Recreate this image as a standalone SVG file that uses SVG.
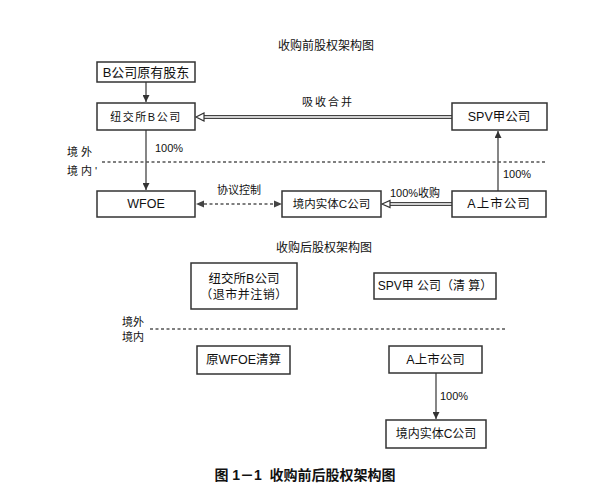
<svg xmlns="http://www.w3.org/2000/svg" width="607" height="496" viewBox="0 0 607 496">
<style>
text{font-family:"Liberation Sans","Noto Sans CJK SC",sans-serif;fill:#111;}
.box{fill:#fff;stroke:#333;stroke-width:1.5;}
.t{font-size:12.5px;text-anchor:middle;dominant-baseline:central;}
.lbl{font-size:11px;}
.ln{stroke:#444;stroke-width:1.3;fill:none;}
.dash{stroke:#555;stroke-width:1.5;stroke-dasharray:3 2.5;fill:none;}
.dbl{stroke:#444;stroke-width:4;fill:none;}
.dbli{stroke:#fff;stroke-width:1.4;fill:none;}
</style>
<defs>
<marker id="ah" viewBox="0 0 10 10" refX="10" refY="5" markerWidth="7" markerHeight="7" orient="auto" markerUnits="userSpaceOnUse">
<path d="M0,0 L10,5 L0,10 z" fill="#333"/>
</marker>
</defs>
<rect width="607" height="496" fill="#fff"/>
<text x="326" y="46" class="t" style="font-size:12px">收购前股权架构图</text>
<g id="connectors">
<line x1="146" y1="82" x2="146" y2="102" class="ln" marker-end="url(#ah)"/>
<line x1="452" y1="117" x2="201" y2="117" class="dbl"/>
<line x1="452" y1="117" x2="200" y2="117" class="dbli"/>
<path d="M196,117 L204,113 L204,121 z" fill="#fff" stroke="#333" stroke-width="1.2"/>
<text x="328" y="106" class="lbl" text-anchor="middle" letter-spacing="2">吸收合并</text>
<line x1="146" y1="130" x2="146" y2="190" class="ln" marker-end="url(#ah)"/>
<text x="155" y="152" class="lbl" font-size="10">100%</text>
<line x1="102" y1="162" x2="546" y2="162" class="dash"/>
<line x1="204" y1="204" x2="274" y2="204" class="dash"/>
<path d="M196,204 L204,200.5 L204,207.5 z" fill="#444"/>
<path d="M282,204 L274,200.5 L274,207.5 z" fill="#444"/>
<text x="239" y="194" class="lbl" text-anchor="middle">协议控制</text>
<line x1="498" y1="191" x2="498" y2="131" class="ln" marker-end="url(#ah)"/>
<text x="503" y="178" class="lbl" font-size="10">100%</text>
<line x1="452" y1="204" x2="387" y2="204" class="dbl"/>
<line x1="452" y1="204" x2="386" y2="204" class="dbli"/>
<path d="M382,204 L390,200.5 L390,207.5 z" fill="#fff" stroke="#333" stroke-width="1.2"/>
<text x="415" y="197" class="lbl" text-anchor="middle">100%收购</text>
<text x="324" y="248" class="t" style="font-size:12px">收购后股权架构图</text>
<line x1="150" y1="329" x2="507" y2="329" class="dash"/>
<line x1="436" y1="373" x2="436" y2="419" class="ln" marker-end="url(#ah)"/>
<text x="440" y="400" class="lbl" font-size="10">100%</text>
</g>
<g id="label-jw1">
<text x="67" y="156" class="lbl" font-size="12.5" letter-spacing="3">境外</text>
<text x="67" y="175" class="lbl" font-size="12.5" letter-spacing="3">境内'</text>
</g>
<g id="label-jw2">
<text x="122" y="326" class="lbl" font-size="12.5">境外</text>
<text x="122" y="341" class="lbl" font-size="12.5">境内</text>
</g>
<g id="n-bgd"><rect x="97" y="62" width="98" height="20" class="box"/><text x="146" y="72" class="t" style="font-size:13px">B公司原有股东</text></g>
<g id="n-nyse"><rect x="97" y="103" width="98" height="27" class="box"/><text x="146" y="117" class="t" style="font-size:11px" letter-spacing="1.5">纽交所B公司</text></g>
<g id="n-spv"><rect x="452" y="103" width="95" height="27" class="box"/><text x="499" y="117" class="t">SPV甲公司</text></g>
<g id="n-wfoe"><rect x="97" y="191" width="98" height="26" class="box"/><text x="146" y="204" class="t">WFOE</text></g>
<g id="n-c"><rect x="282" y="191" width="99" height="26" class="box"/><text x="331.5" y="204" class="t" style="font-size:11.5px">境内实体C公司</text></g>
<g id="n-a"><rect x="452" y="191" width="94" height="26" class="box"/><text x="499" y="204" class="t" letter-spacing="1">A上市公司</text></g>
<g id="n-nyse2"><rect x="191" y="263" width="106" height="46" class="box"/><text x="244" y="279" class="t">纽交所B公司</text><text x="244" y="295" class="t" style="font-size:12px" letter-spacing="0.5">（退市并注销）</text></g>
<g id="n-spv2"><rect x="374" y="273" width="122" height="26" class="box"/><text x="435" y="286" class="t" style="font-size:12px">SPV甲 公司（清 算）</text></g>
<g id="n-wfoe2"><rect x="197" y="346" width="93" height="28" class="box"/><text x="243.5" y="360" class="t">原WFOE清算</text></g>
<g id="n-a2"><rect x="389" y="346" width="93" height="27" class="box"/><text x="435.5" y="359.5" class="t">A上市公司</text></g>
<g id="n-c2"><rect x="386" y="420" width="100" height="28" class="box"/><text x="436" y="434" class="t" style="font-size:12px">境内实体C公司</text></g>
<text x="305" y="475" class="t" style="font-size:14px;font-weight:bold" xml:space="preserve">图 1－1  收购前后股权架构图</text>
</svg>
